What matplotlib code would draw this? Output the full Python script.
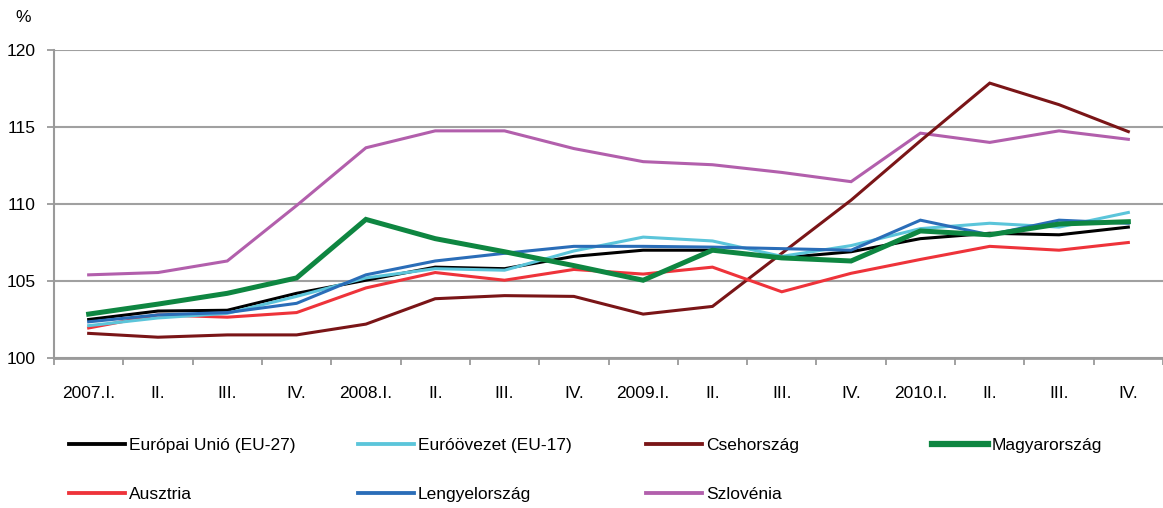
import matplotlib
matplotlib.use("Agg")
import matplotlib.pyplot as plt
import numpy as np
from matplotlib import font_manager

categories = ["2007.I.", "II.", "III.", "IV.", "2008.I.", "II.", "III.", "IV.",
              "2009.I.", "II.", "III.", "IV.", "2010.I.", "II.", "III.", "IV."]

eu27 = [102.5, 103.05, 103.1, 104.2, 105.05, 105.9, 105.8, 106.6,
        107.0, 107.0, 106.5, 106.9, 107.75, 108.1, 108.0, 108.5]
eu17 = [102.1, 102.6, 102.9, 104.0, 105.2, 105.8, 105.7, 106.95,
        107.85, 107.6, 106.6, 107.3, 108.4, 108.75, 108.5, 109.45]
cseh = [101.6, 101.35, 101.5, 101.5, 102.2, 103.85, 104.05, 104.0,
        102.85, 103.35, 106.8, 110.25, 114.1, 117.85, 116.45, 114.7]
magyar = [102.85, 103.5, 104.2, 105.2, 109.0, 107.75, 106.9, 106.0,
          105.05, 107.0, 106.5, 106.3, 108.25, 108.0, 108.7, 108.85]
ausztria = [101.95, 102.8, 102.65, 102.95, 104.55, 105.55, 105.05, 105.75,
            105.45, 105.9, 104.3, 105.5, 106.4, 107.25, 107.0, 107.5]
lengyel = [102.35, 102.8, 102.95, 103.55, 105.4, 106.3, 106.8, 107.25,
           107.25, 107.2, 107.1, 107.0, 108.95, 108.0, 108.95, 108.75]
szlovenia = [105.4, 105.55, 106.3, 109.9, 113.65, 114.75, 114.75, 113.6,
             112.75, 112.55, 112.05, 111.45, 114.6, 114.0, 114.75, 114.2]

series_names = ["Európai Unió (EU-27)", "Euróövezet (EU-17)", "Csehország",
                "Magyarország", "Ausztria", "Lengyelország", "Szlovénia"]
series_values = [eu27, eu17, cseh, magyar, ausztria, lengyel, szlovenia]
series_colors = ["#000000", "#5BC5DA", "#7A1517", "#0E8641",
                 "#EE333A", "#2A6DB8", "#B25FAC"]
series_widths = [2.2, 2.2, 2.2, 3.6, 2.2, 2.2, 2.2]

names = {f.name for f in font_manager.fontManager.ttflist}
fam = "Liberation Sans Narrow" if "Liberation Sans Narrow" in names else "Liberation Sans"
plt.rcParams["font.family"] = [fam, "DejaVu Sans"]
FS = 12.5
plt.rcParams["font.size"] = FS

W, H = 1163, 508
fig = plt.figure(figsize=(W / 100, H / 100), dpi=100)
ax = fig.add_axes([54 / W, 1 - 358 / H, (W - 54) / W, (358 - 50) / H])

x = np.arange(len(categories))
order = [6, 2, 4, 0, 1, 5, 3]
lines = {}
for i in order:
    ln, = ax.plot(x, series_values[i], color=series_colors[i], lw=series_widths[i],
                  label=series_names[i], solid_joinstyle="miter")
    lines[i] = ln

ax.set_xlim(-0.5, len(categories) - 0.5)
ax.set_ylim(100, 120)
ax.set_yticks([100, 105, 110, 115, 120])
ax.yaxis.grid(True, color="#A0A0A0", lw=1.5)
ax.set_axisbelow(True)

ax.set_xticks(x)
ax.set_xticklabels(categories)
ax.set_xticks(np.arange(-0.5, len(categories), 1), minor=True)
ax.tick_params(axis="x", which="major", length=0, pad=20, labelsize=FS)
ax.tick_params(axis="x", which="minor", length=5, width=1.3, color="#9A9A9A", direction="out")
ax.tick_params(axis="y", length=5, width=1.3, color="#9A9A9A", labelsize=FS, pad=8)

for s in ["top", "right"]:
    ax.spines[s].set_visible(False)
ax.spines["left"].set_color("#9A9A9A")
ax.spines["left"].set_linewidth(1.5)
ax.spines["bottom"].set_color("#9A9A9A")
ax.spines["bottom"].set_linewidth(2)

fig.text(15 / W, 1 - 17 / H, "%", fontsize=FS, ha="left", va="center")

# legend: each entry anchored in its own slot (2 rows x 4 columns)
col_x = [69, 358, 646, 932]
row_y = [445, 494]
em_px = FS * 100 / 72
for k in range(len(series_names)):
    r, c = divmod(k, 4)
    lg = fig.legend([lines[k]], [series_names[k]], loc="center left",
                    bbox_to_anchor=(col_x[c] / W, 1 - row_y[r] / H),
                    frameon=False, fontsize=FS, handlelength=56 / em_px,
                    handletextpad=4 / em_px, borderpad=0, borderaxespad=0)
    for hl in lg.get_lines():
        hl.set_linewidth(series_widths[k] * 1.25)

fig.savefig("out.png", dpi=100)
